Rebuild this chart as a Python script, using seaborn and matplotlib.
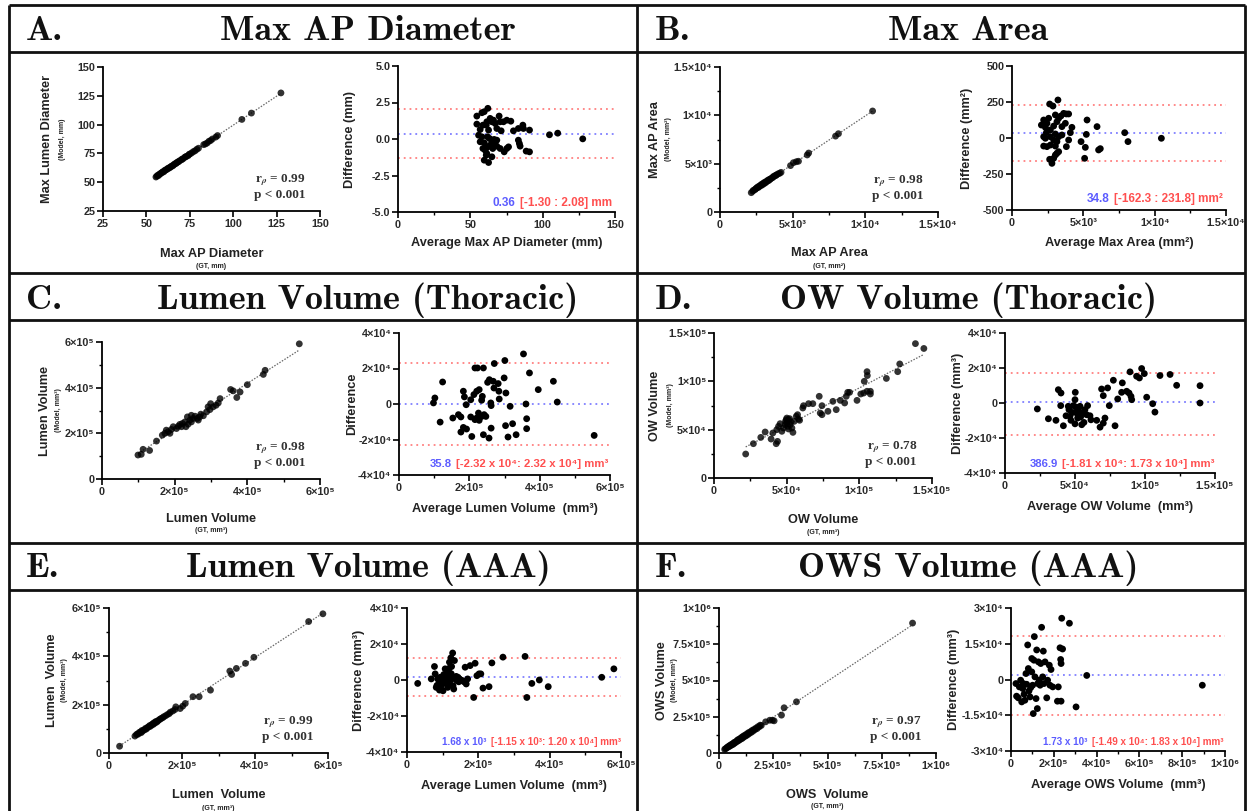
import numpy as np
import matplotlib
matplotlib.use("Agg")
import matplotlib.pyplot as plt
import seaborn as sns
from matplotlib.ticker import FuncFormatter, MultipleLocator
from matplotlib.offsetbox import TextArea, HPacker, AnchoredOffsetbox

# ---------------------------------------------------------------- data
# A. Max AP diameter (mm)
diam_gt = [55.5, 56, 56.5, 57, 57.5, 58, 58.5, 59, 59.5, 60, 60.5, 61, 61.5, 62, 62.5, 63, 63.5, 64,
           64.5, 65, 65.5, 66, 66.5, 67, 67.5, 68, 68.5, 69, 70, 70.5, 71, 72, 72.5, 73, 74, 74.5, 75,
           76, 77, 78, 79, 80, 83, 84, 85, 86, 87, 88, 90, 91, 105, 110.5, 127.5]
diam_model = [54.5, 55.2, 56, 55.8, 57, 57.2, 58, 58.4, 59.1, 59, 60.2, 60.5, 60.8, 61.6, 62, 62.2, 63,
              63.1, 64, 64.2, 64.6, 65.5, 66, 66.2, 67, 67.4, 67.8, 68.5, 69.3, 70, 70.2, 71.5, 72, 72.4,
              73, 74, 74.5, 75.3, 76.5, 77.2, 78.5, 79.5, 82.6, 83.2, 84, 85.5, 86.2, 87.5, 89.2, 90.5,
              104.5, 110, 127.5]
diam_avg = [54.5, 58.0, 59.6, 62.1, 54.5, 56.8, 58.7, 61.4, 63.7, 64.9, 66.0, 67.2, 69.9, 70.6, 71.3,
            72.9, 75.2, 78.0, 79.8, 83.2, 86.3, 86.7, 90.9, 68.3, 62.6, 61.0, 55.7, 56.8, 58.0, 59.6,
            61.9, 63.3, 64.9, 66.5, 68.3, 58.7, 60.3, 61.0, 61.4, 59.6, 62.6, 64.9, 65.5, 70.6, 73.4,
            75.2, 76.4, 83.2, 83.9, 84.4, 88.6, 90.9, 104.7, 110.4, 127.7, 66.7, 68.3, 63.7, 62.1]
diam_diff = [1.57, 1.80, 1.87, 2.10, 1.02, 0.65, 0.95, 1.18, 1.41, 1.18, 1.29, 1.06, 1.57, 1.18, 0.56,
             1.18, 1.29, 1.22, 0.56, 0.72, 0.95, 0.72, 0.61, 0.72, 0.61, 0.95, 0.26, -0.19, 0.15, -0.26,
             0.15, 0.03, -0.08, -0.03, -0.08, -0.65, -0.77, -1.11, -1.00, -1.45, -1.61, -1.22, -0.65,
             -0.65, -0.88, -0.65, -0.54, -0.08, -0.31, -0.49, -0.83, -0.88, 0.29, 0.40, 0.01, -0.31,
             -0.49, -0.42, -0.54]
diam_loa = (0.36, -1.30, 2.08)

# B. Max area (mm^2)
area_gt = [2150, 2250, 2300, 2400, 2450, 2500, 2550, 2600, 2650, 2700, 2750, 2800, 2850, 2900, 2950,
           3000, 3050, 3100, 3150, 3200, 3250, 3300, 3350, 3400, 3450, 3500, 3600, 3650, 3700, 3800,
           3850, 3900, 4000, 4100, 4200, 4850, 5050, 5250, 5400, 6000, 6100, 7950, 8150, 10500]
area_model = [2000, 2150, 2250, 2300, 2400, 2450, 2500, 2600, 2550, 2650, 2700, 2800, 2750, 2900, 2850,
              3000, 2950, 3100, 3050, 3150, 3200, 3300, 3250, 3350, 3400, 3450, 3550, 3600, 3700, 3750,
              3800, 3850, 3950, 4000, 4100, 4800, 5100, 5200, 5250, 5900, 6100, 7850, 8100, 10450]
area_avg = [2060, 2220, 2340, 2450, 2570, 2640, 2870, 3220, 3040, 3150, 3270, 3430, 3620, 3810, 3970,
            4200, 4090, 3740, 3500, 2920, 2690, 2410, 2220, 2340, 2690, 3040, 3270, 3500, 2920, 3150,
            3810, 3970, 2220, 2450, 2690, 3040, 3270, 3040, 2920, 2760, 2640, 2800, 3150, 5260, 5960,
            5210, 4840, 5140, 5090, 6070, 6190, 7900, 8130, 10470]
area_diff = [90, 125, 74, 102, 137, 236, 222, 264, 160, 113, 137, 153, 171, 167, 167, 74, 37, 102, 79,
             83, 56, 37, 9, -2, 9, 28, 9, 21, -14, -25, -60, -14, -56, -60, -49, -56, -95, -118, -141,
             -153, -148, -176, -106, 125, 79, 25, -25, -65, -141, -83, -74, 37, -25, -2]
area_loa = (34.8, -162.3, 231.8)

# C. Lumen volume, thoracic (mm^3); gt/model/avg in 1e5, diff in 1e4
lthor_gt = [0.99, 1.08, 1.13, 1.31, 1.50, 1.66, 1.73, 1.77, 1.82, 1.87, 1.91, 1.96, 2.05, 2.10, 2.14,
            2.19, 2.21, 2.28, 2.31, 2.35, 2.37, 2.42, 2.46, 2.46, 2.51, 2.56, 2.62, 2.65, 2.69, 2.72,
            2.79, 2.88, 2.92, 2.97, 2.99, 3.06, 3.14, 3.20, 3.25, 3.54, 3.61, 3.71, 3.80, 4.00, 4.44,
            4.49, 5.43]
lthor_model = [1.05, 1.08, 1.30, 1.25, 1.66, 1.92, 2.00, 2.14, 2.07, 2.00, 2.17, 2.29, 2.21, 2.31, 2.39,
               2.29, 2.43, 2.50, 2.29, 2.72, 2.40, 2.58, 2.79, 2.50, 2.65, 2.75, 2.65, 2.58, 2.72, 2.84,
               2.77, 2.94, 3.16, 3.04, 3.30, 3.16, 3.23, 3.33, 3.52, 3.92, 3.86, 3.57, 3.81, 4.13, 4.58,
               4.76, 5.92]
lthor_avg = [0.98, 1.02, 1.24, 1.17, 1.53, 1.69, 1.76, 1.83, 1.86, 1.91, 1.83, 1.92, 1.76, 2.04, 2.04,
             2.07, 2.13, 2.16, 2.23, 2.40, 2.21, 2.28, 2.26, 2.30, 2.21, 2.28, 2.16, 2.35, 2.37, 2.35,
             2.42, 2.47, 2.40, 2.52, 2.57, 2.68, 2.61, 2.62, 2.62, 2.56, 2.70, 2.82, 2.85, 2.84, 2.71,
             3.01, 2.99, 3.04, 3.16, 3.03, 3.10, 3.23, 3.33, 3.54, 3.71, 3.61, 3.63, 3.63, 3.96, 4.39,
             4.50, 5.55]
lthor_diff = [0.06, 0.34, 1.24, -1.02, -0.79, -0.60, -0.73, 0.72, 0.40, -0.04, -1.32, -1.41, -1.58,
              0.24, -0.73, -1.83, 0.53, 2.03, 2.03, 2.03, 0.72, 0.81, -0.51, -0.73, -0.79, -0.92, -0.88,
              -0.70, 0.43, 0.21, -0.60, -0.70, -1.73, 1.22, 1.37, 1.28, 0.06, -0.09, -1.36, -1.92, 0.90,
              1.15, 0.28, 0.72, 2.28, 2.45, 1.47, 0.62, -0.13, -1.22, -1.86, -1.11, -1.73, 2.82, 1.75,
              0.00, -0.83, -1.39, 0.81, 1.28, 0.11, -1.77]
lthor_loa = (35.8, -2.32e4, 2.32e4)

# D. Outer-wall volume, thoracic (mm^3); all in 1e4
owthor_gt = [2.18, 2.71, 3.22, 3.52, 3.93, 4.05, 4.28, 4.37, 4.32, 4.44, 4.55, 4.67, 4.78, 4.90, 4.97,
             5.01, 5.08, 5.13, 5.20, 5.24, 5.29, 5.36, 5.43, 5.13, 5.01, 4.92, 5.52, 5.66, 5.75, 5.82,
             5.89, 6.11, 6.16, 6.51, 6.80, 7.24, 7.31, 7.43, 7.43, 7.84, 8.18, 8.41, 8.69, 8.99, 9.10,
             9.20, 9.33, 9.84, 10.1, 10.3, 10.34, 10.53, 10.55, 10.53, 10.76, 10.76, 11.86, 12.64,
             12.78, 13.86, 14.44]
owthor_model = [2.48, 3.55, 4.20, 4.76, 4.03, 4.66, 3.55, 3.79, 5.00, 5.34, 5.62, 4.83, 5.17, 5.52, 6.03,
                5.69, 5.34, 5.07, 6.14, 5.52, 5.79, 5.17, 4.72, 6.03, 6.20, 5.86, 5.86, 6.38, 6.55, 6.10,
                5.97, 7.24, 7.48, 7.69, 7.69, 8.45, 6.72, 7.48, 6.55, 6.90, 7.93, 7.07, 8.03, 7.76, 8.45,
                8.86, 8.86, 8.03, 8.69, 8.79, 10.0, 11.0, 10.6, 8.97, 8.97, 8.69, 10.3, 11.0, 11.8,
                13.9, 13.4]
owthor_avg = [2.31, 3.10, 3.64, 3.81, 4.00, 3.98, 4.17, 4.36, 4.52, 4.57, 4.64, 4.71, 4.83, 4.88, 5.00,
              5.02, 5.00, 5.07, 5.12, 5.19, 5.24, 5.31, 5.36, 5.40, 5.48, 5.55, 5.64, 5.71, 5.83, 5.90,
              6.07, 6.14, 6.55, 6.79, 6.90, 7.02, 7.02, 7.14, 7.33, 7.45, 7.74, 7.86, 8.05, 8.33, 8.38,
              8.69, 8.86, 8.93, 9.00, 9.05, 9.40, 9.60, 9.76, 9.95, 10.12, 10.55, 10.71, 11.07, 11.79,
              12.26, 13.93, 13.93]
owthor_diff = [-0.34, -0.90, -0.99, 0.76, 0.57, -0.15, -1.30, -0.73, -0.19, -0.38, -0.76, -0.99, -0.54,
               -0.15, -1.19, 0.61, 0.19, -0.23, -0.57, -0.86, -0.38, -0.67, -0.19, -0.80, -1.24, -0.57,
               -1.11, -0.38, -0.67, -0.15, -0.73, -0.96, -0.99, -1.38, 0.80, -1.15, 0.42, -0.86, 0.86,
               -0.15, 1.30, -1.30, 0.23, 0.61, 1.15, 0.67, 0.57, 1.78, 0.38, 0.19, 1.53, 1.43, 1.97,
               1.68, 0.33, -0.04, -0.52, 1.57, 1.63, 1.01, 0.99, 0.00]
owthor_loa = (386.9, -1.81e4, 1.73e4)

# E. Lumen volume, AAA (mm^3); gt/model/avg in 1e5, diff in 1e4
laaa_gt = [0.29, 0.71, 0.75, 0.78, 0.80, 0.83, 0.86, 0.88, 0.90, 0.92, 0.95, 0.98, 1.00, 1.02, 1.05,
           1.07, 1.10, 1.12, 1.14, 1.17, 1.19, 1.21, 1.23, 1.25, 1.27, 1.29, 1.31, 1.34, 1.37, 1.40,
           1.43, 1.47, 1.50, 1.55, 1.60, 1.65, 1.68, 1.75, 1.81, 1.83, 1.95, 2.02, 2.09, 2.30, 2.47,
           2.78, 3.31, 3.36, 3.49, 3.74, 3.97, 5.47, 5.86]
laaa_model = [0.28, 0.70, 0.76, 0.79, 0.78, 0.85, 0.87, 0.84, 0.93, 0.90, 0.95, 0.97, 1.02, 0.99, 1.04,
              1.08, 1.09, 1.14, 1.11, 1.17, 1.20, 1.18, 1.25, 1.23, 1.27, 1.31, 1.28, 1.33, 1.37, 1.40,
              1.43, 1.46, 1.50, 1.54, 1.59, 1.63, 1.69, 1.74, 1.80, 1.91, 1.84, 1.94, 2.05, 2.33, 2.33,
              2.60, 3.39, 3.25, 3.50, 3.71, 3.96, 5.44, 5.76]
laaa_avg = [0.30, 0.68, 0.77, 0.79, 0.82, 0.86, 0.89, 0.91, 0.93, 0.96, 0.99, 1.01, 1.03, 1.05, 1.07,
            1.10, 1.12, 1.14, 1.17, 1.19, 1.21, 1.23, 1.26, 1.28, 1.29, 1.31, 1.33, 1.35, 1.40, 1.43,
            1.47, 1.51, 1.56, 1.63, 1.66, 1.70, 1.77, 1.87, 1.91, 1.96, 2.02, 2.07, 2.13, 2.30, 2.38,
            2.69, 3.31, 3.36, 3.50, 3.71, 3.96, 5.46, 5.80,
            0.84, 0.95, 1.08, 1.15, 1.24, 1.38, 1.45, 1.18, 1.25, 1.60]
laaa_diff = [-0.19, 0.06, 0.75, 0.34, -0.41, 0.06, -0.22, -0.56, 0.15, -0.32, -0.04, -0.60, 0.30, 0.06,
             0.62, -0.19, 0.19, -0.41, 0.43, 0.99, -0.04, 1.23, 0.19, 1.50, -0.32, -0.50, 1.08, 0.06,
             -0.04, 0.15, 0.06, 0.00, -0.04, 0.71, -0.22, 0.06, 0.80, -0.97, 0.93, 0.24, 0.34, 0.34,
             -0.45, -0.37, 0.95, 1.27, 1.31, -0.97, -0.19, 0.00, -0.37, 0.15, 0.62,
             -0.30, 0.10, 0.25, -0.15, 0.35, 0.20, -0.10, 0.65, 0.75, -0.10]
laaa_loa = (1.68e3, -8.65e3, 1.20e4)

# F. Outer-wall-and-sac volume, AAA (mm^3); gt/model/avg in 1e5, diff in 1e4
ows_gt = [0.26, 0.3, 0.35, 0.38, 0.42, 0.45, 0.48, 0.5, 0.53, 0.56, 0.6, 0.62, 0.65, 0.68, 0.7, 0.73,
          0.76, 0.8, 0.83, 0.86, 0.88, 0.9, 0.93, 0.96, 1.0, 1.02, 1.05, 1.08, 1.1, 1.13, 1.16, 1.2,
          1.23, 1.26, 1.3, 1.33, 1.36, 1.4, 1.44, 1.48, 1.52, 1.56, 1.6, 1.65, 1.7, 1.75, 1.8, 1.85,
          1.9, 1.95, 2.15, 2.34, 2.46, 2.54, 2.88, 3.0, 3.57, 8.92]
ows_model = [0.25, 0.3, 0.34, 0.4, 0.41, 0.47, 0.46, 0.52, 0.5, 0.58, 0.57, 0.63, 0.6, 0.7, 0.66, 0.75,
             0.72, 0.78, 0.86, 0.82, 0.92, 0.86, 0.95, 0.92, 1.03, 0.97, 1.08, 1.02, 1.14, 1.09, 1.2,
             1.15, 1.26, 1.2, 1.33, 1.27, 1.4, 1.35, 1.46, 1.42, 1.55, 1.5, 1.62, 1.6, 1.72, 1.68, 1.82,
             1.8, 1.92, 1.9, 2.15, 2.26, 2.26, 2.22, 2.61, 3.12, 3.53, 8.96]
ows_avg = [0.23, 0.26, 0.34, 0.39, 0.45, 0.50, 0.55, 0.58, 0.61, 0.65, 0.70, 0.73, 0.78, 0.81, 0.84,
           0.89, 0.92, 0.97, 0.97, 1.01, 1.04, 1.07, 1.09, 1.12, 1.17, 1.20, 1.23, 1.25, 1.28, 1.32,
           1.36, 1.39, 1.43, 1.48, 1.51, 1.54, 1.59, 1.67, 1.71, 1.79, 1.82, 1.87, 1.95, 2.21, 2.29,
           2.32, 2.34, 2.37, 2.41, 2.34, 2.17, 2.73, 3.04, 3.54, 8.94]
ows_diff = [-0.17, -0.70, -0.77, -0.31, -0.03, -0.94, -0.38, -0.17, -0.62, -0.87, 0.25, -0.20, 1.45,
            0.46, -0.48, -0.73, -0.34, 0.32, 0.88, -0.24, -1.43, 0.81, 1.80, 0.11, -0.80, 1.24, -1.22,
            -0.17, 0.74, -0.03, -0.24, 0.67, 2.19, 0.11, 1.19, -0.17, 0.74, -0.77, -0.03, 0.60, -0.24,
            0.42, -0.31, -0.31, 1.33, 0.84, -0.91, 2.57, 1.28, 0.67, -0.91, 2.36, -1.15, 0.17, -0.24]
ows_loa = (1.73e3, -1.49e4, 1.83e4)

spearman_r = [0.99, 0.98, 0.98, 0.78, 0.99, 0.97]

panel_letters = ["A.", "B.", "C.", "D.", "E.", "F."]
panel_titles = ["Max AP Diameter", "Max Area", "Lumen Volume (Thoracic)",
                "OW Volume (Thoracic)", "Lumen Volume (AAA)", "OWS Volume (AAA)"]

# ---------------------------------------------------------------- style
sns.set_style("ticks")
plt.rcParams["font.family"] = ["Liberation Sans", "DejaVu Sans"]
plt.rcParams["font.weight"] = "bold"
plt.rcParams["mathtext.fontset"] = "stix"
plt.rcParams["axes.unicode_minus"] = False

W, H = 1247, 811
fig = plt.figure(figsize=(W / 100, H / 100), dpi=100)
fig.patch.set_facecolor("white")

SUP = str.maketrans("0123456789-", "⁰¹²³⁴⁵⁶⁷⁸⁹⁻")
LABEL_FS = 9.2
TICK_FS = 7.8


def sci(v, pos=None):
    if abs(v) < 1e-9:
        return "0"
    e = int(np.floor(np.log10(abs(v)) + 1e-9))
    m = round(v / 10 ** e, 2)
    return "%g×10%s" % (m, str(e).translate(SUP))


fmt_sci = FuncFormatter(sci)
fmt_int = FuncFormatter(lambda v, p: "%d" % round(v))
fmt_1f = FuncFormatter(lambda v, p: "%.1f" % v)


def add_axes_px(x0, x1, y0, y1):
    return fig.add_axes([x0 / W, 1 - y1 / H, (x1 - x0) / W, (y1 - y0) / H])


def style(ax, xlim, ylim, xmaj, ymaj, xminor=None, yminor=None, xfmt=fmt_sci, yfmt=fmt_sci):
    ax.set_xlim(*xlim)
    ax.set_ylim(*ylim)
    ax.xaxis.set_major_locator(MultipleLocator(xmaj))
    ax.yaxis.set_major_locator(MultipleLocator(ymaj))
    if xminor:
        ax.xaxis.set_minor_locator(MultipleLocator(xminor))
    if yminor:
        ax.yaxis.set_minor_locator(MultipleLocator(yminor))
    ax.xaxis.set_major_formatter(xfmt)
    ax.yaxis.set_major_formatter(yfmt)
    sns.despine(ax=ax)
    for s in ("left", "bottom"):
        ax.spines[s].set_linewidth(1.3)
        ax.spines[s].set_color("black")
    ax.tick_params(which="major", length=4, width=1.2, color="black",
                   labelsize=TICK_FS, labelcolor="#2a2a2a", pad=1.5)
    ax.tick_params(which="minor", length=2.5, width=1.0, color="black")
    ax.set_xlabel("")
    ax.set_ylabel("")
    ax.set_facecolor("none")


def labels(ax, xlab, ylab, xsub=None, ysub=None, xoff=(42, 55), yoff=(57, 44)):
    ax.annotate(xlab, xy=(0.5, 0), xycoords="axes fraction", xytext=(0, -xoff[0]),
                textcoords="offset pixels", ha="center", va="center", fontsize=LABEL_FS,
                color="#222")
    ax.annotate(ylab, xy=(0, 0.5), xycoords="axes fraction", xytext=(-yoff[0], 0),
                textcoords="offset pixels", ha="center", va="center", fontsize=LABEL_FS,
                rotation=90, color="#222")
    if xsub:
        ax.annotate(xsub, xy=(0.5, 0), xycoords="axes fraction", xytext=(0, -xoff[1]),
                    textcoords="offset pixels", ha="center", va="center", fontsize=5, color="#222")
    if ysub:
        ax.annotate(ysub, xy=(0, 0.5), xycoords="axes fraction", xytext=(-yoff[1], 0),
                    textcoords="offset pixels", ha="center", va="center", fontsize=5,
                    rotation=90, color="#222")


def corr_panel(ax, gt, model, r):
    sns.regplot(x=np.asarray(gt), y=np.asarray(model), ax=ax, ci=None, truncate=True,
                scatter_kws=dict(s=24, color="black", edgecolor="none", linewidths=0, zorder=3,
                                 clip_on=False),
                line_kws=dict(color="#666666", lw=0.9, ls=(0, (1.2, 1.2)), zorder=2))
    kw = dict(xycoords="axes fraction", textcoords="offset pixels", ha="right", va="center",
              fontsize=9.5, fontfamily="Liberation Serif", fontweight="bold", color="#333")
    ax.annotate(r"r$_\rho$ = %.2f" % r, xy=(1, 0), xytext=(-15, 31), **kw)
    ax.annotate("p < 0.001", xy=(1, 0), xytext=(-15, 16), **kw)


def ba_panel(ax, avg, diff, loa, blue, red, fs, dx, dy):
    sns.scatterplot(x=np.asarray(avg), y=np.asarray(diff), ax=ax, s=24, color="black",
                    edgecolor="none", linewidth=0, zorder=3, clip_on=False)
    bias, lo, hi = loa
    ax.axhline(bias, color="#7f7fff", lw=1.3, ls=(0, (1, 2.2)), zorder=2)
    ax.axhline(lo, color="#ff8080", lw=1.3, ls=(0, (1, 2.2)), zorder=2)
    ax.axhline(hi, color="#ff8080", lw=1.3, ls=(0, (1, 2.2)), zorder=2)
    t1 = TextArea(blue, textprops=dict(color="#5c5cff", fontsize=fs, fontweight="bold"))
    t2 = TextArea(red, textprops=dict(color="#ff4f4f", fontsize=fs, fontweight="bold"))
    box = HPacker(children=[t1, t2], align="baseline", pad=0, sep=3)
    pos = ax.get_position()
    wpx, hpx = pos.width * W, pos.height * H
    anc = AnchoredOffsetbox(loc="center right", child=box, pad=0, borderpad=0, frameon=False,
                            bbox_to_anchor=(1 - dx / wpx, dy / hpx), bbox_transform=ax.transAxes)
    ax.add_artist(anc)


# ---------------------------------------------------------------- frame and headers
bg = fig.add_axes([0, 0, 1, 1], zorder=-5)
bg.set_xlim(0, W)
bg.set_ylim(H, 0)
bg.axis("off")
for y in (5, 52, 273, 320, 543, 590):
    bg.plot([9, 1245], [y, y], color="#111", lw=2.0, solid_capstyle="butt")
for x in (9, 637, 1245):
    bg.plot([x, x], [5, H], color="#111", lw=2.0, solid_capstyle="butt")

baselines = [40, 40, 309, 309, 577, 577]
for i in range(6):
    left = i % 2 == 0
    bg.text(26 if left else 655, baselines[i], panel_letters[i], fontfamily="cmb10",
            fontsize=26, ha="left", va="baseline", color="#111")
    bg.text(368 if left else 968, baselines[i], panel_titles[i], fontfamily="cmb10",
            fontsize=26, ha="center", va="baseline", color="#111")

# ---------------------------------------------------------------- A
ax = add_axes_px(103, 320, 67, 211)
corr_panel(ax, diam_gt, diam_model, spearman_r[0])
style(ax, (25, 150), (25, 150), 25, 25, xfmt=fmt_int, yfmt=fmt_int)
labels(ax, "Max AP Diameter", "Max Lumen Diameter", "(GT, mm)", "(Model, mm)",
       xoff=(43, 55), yoff=(56, 40))

ax = add_axes_px(398, 615, 66, 212)
ba_panel(ax, diam_avg, diam_diff, diam_loa, "0.36", "[-1.30 : 2.08] mm", 8.5, 3, 9)
style(ax, (0, 150), (-5, 5), 50, 2.5, xminor=25, xfmt=fmt_int, yfmt=fmt_1f)
labels(ax, "Average Max AP Diameter (mm)", "Difference (mm)", xoff=(31, 0), yoff=(48, 0))

# ---------------------------------------------------------------- B
ax = add_axes_px(720, 938, 67, 212)
corr_panel(ax, area_gt, area_model, spearman_r[1])
style(ax, (0, 1.5e4), (0, 1.5e4), 5e3, 5e3, 2.5e3, 2.5e3)
labels(ax, "Max AP Area", "Max AP Area", "(GT, mm²)", "(Model, mm²)",
       xoff=(41, 55), yoff=(65, 52))

ax = add_axes_px(1012, 1226, 66, 210)
ba_panel(ax, area_avg, area_diff, area_loa, "34.8", "[-162.3 : 231.8] mm²", 8.5, 3, 11)
style(ax, (0, 1.5e4), (-500, 500), 5e3, 250, xminor=2.5e3, yfmt=fmt_int)
labels(ax, "Average Max Area (mm²)", "Difference (mm²)", xoff=(33, 0), yoff=(45, 0))

# ---------------------------------------------------------------- C
ax = add_axes_px(102, 320, 342, 479)
corr_panel(ax, np.array(lthor_gt) * 1e5, np.array(lthor_model) * 1e5, spearman_r[2])
style(ax, (0, 6e5), (0, 6e5), 2e5, 2e5, 1e5, 1e5)
labels(ax, "Lumen Volume", "Lumen Volume", "(GT, mm³)", "(Model, mm³)",
       xoff=(40, 52), yoff=(57, 44))

ax = add_axes_px(399, 610, 333, 475)
ba_panel(ax, np.array(lthor_avg) * 1e5, np.array(lthor_diff) * 1e4, lthor_loa,
         "35.8", "[-2.32 x 10⁴: 2.32 x 10⁴] mm³", 8.2, 2, 11)
style(ax, (0, 6e5), (-4e4, 4e4), 2e5, 2e4, xminor=1e5)
labels(ax, "Average Lumen Volume  (mm³)", "Difference", xoff=(34, 0), yoff=(47, 0))

# ---------------------------------------------------------------- D
ax = add_axes_px(714, 932, 333, 478)
corr_panel(ax, np.array(owthor_gt) * 1e4, np.array(owthor_model) * 1e4, spearman_r[3])
style(ax, (0, 1.5e5), (0, 1.5e5), 5e4, 5e4, 2.5e4, 2.5e4)
labels(ax, "OW Volume", "OW Volume", "(GT, mm³)", "(Model, mm³)",
       xoff=(42, 54), yoff=(59, 43))

ax = add_axes_px(1005, 1215, 333, 473)
ba_panel(ax, np.array(owthor_avg) * 1e4, np.array(owthor_diff) * 1e4, owthor_loa,
         "386.9", "[-1.81 x 10⁴: 1.73 x 10⁴] mm³", 8.2, 0, 9)
style(ax, (0, 1.5e5), (-4e4, 4e4), 5e4, 2e4, xminor=2.5e4)
labels(ax, "Average OW Volume  (mm³)", "Difference (mm³)", xoff=(34, 0), yoff=(47, 0))

# ---------------------------------------------------------------- E
ax = add_axes_px(109, 328, 608, 753)
corr_panel(ax, np.array(laaa_gt) * 1e5, np.array(laaa_model) * 1e5, spearman_r[4])
style(ax, (0, 6e5), (0, 6e5), 2e5, 2e5, 1e5, 1e5)
labels(ax, "Lumen  Volume", "Lumen  Volume", "(GT, mm³)", "(Model, mm³)",
       xoff=(42, 55), yoff=(57, 44))

ax = add_axes_px(407, 621, 608, 752)
ba_panel(ax, np.array(laaa_avg) * 1e5, np.array(laaa_diff) * 1e4, laaa_loa,
         "1.68 x 10³", "[-1.15 x 10³: 1.20 x 10⁴] mm³", 7.1, 0, 10)
style(ax, (0, 6e5), (-4e4, 4e4), 2e5, 2e4, xminor=1e5)
labels(ax, "Average Lumen Volume  (mm³)", "Difference (mm³)", xoff=(34, 0), yoff=(48, 0))

# ---------------------------------------------------------------- F
ax = add_axes_px(719, 936, 608, 753)
corr_panel(ax, np.array(ows_gt) * 1e5, np.array(ows_model) * 1e5, spearman_r[5])
style(ax, (0, 1e6), (0, 1e6), 2.5e5, 2.5e5, 1.25e5, 1.25e5)
labels(ax, "OWS  Volume", "OWS Volume", "(GT, mm³)", "(Model, mm³)",
       xoff=(42, 54), yoff=(57, 44))

ax = add_axes_px(1011, 1225, 608, 751)
ba_panel(ax, np.array(ows_avg) * 1e5, np.array(ows_diff) * 1e4, ows_loa,
         "1.73 x 10³", "[-1.49 x 10⁴: 1.83 x 10⁴] mm³", 7.1, 2, 9)
style(ax, (0, 1e6), (-3e4, 3e4), 2e5, 1.5e4, xminor=1e5)
labels(ax, "Average OWS Volume  (mm³)", "Difference (mm³)", xoff=(34, 0), yoff=(57, 0))

fig.savefig("out.png", dpi=100, facecolor="white")
